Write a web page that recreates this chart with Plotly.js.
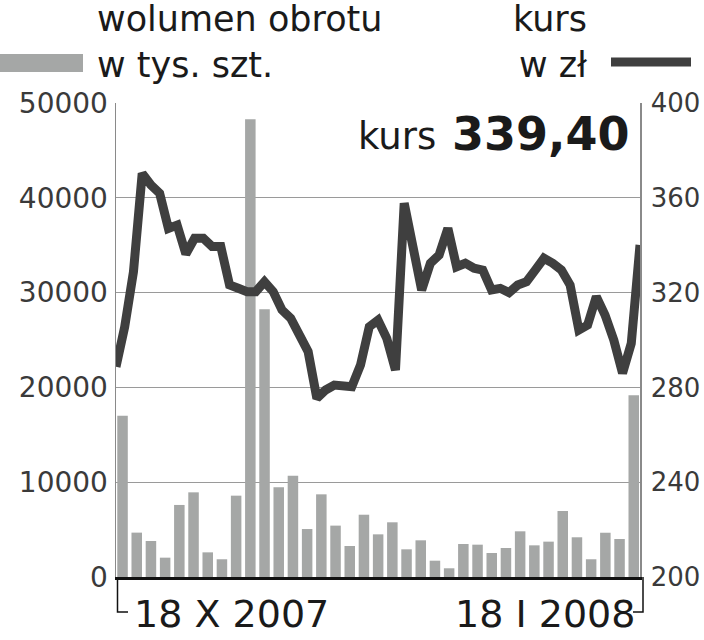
<!DOCTYPE html>
<html><head><meta charset="utf-8">
<script src="https://cdn.plot.ly/plotly-3.0.1.min.js"></script>
<style>html,body{margin:0;padding:0;background:#fff;}#chart{width:704px;height:640px;}</style>
</head><body><div id="chart"></div>
<script>
// Volume (thousand shares) per bar
const volume = [17000, 4680, 3800, 2040, 7600, 8930, 2600, 1870, 8580, 48280,
  28240, 9460, 10690, 5060, 8720, 5420, 3270, 6570, 4500, 5770,
  2920, 3870, 1720, 920, 3480, 3410, 2530, 3060, 4820, 3340,
  3730, 6960, 4190, 1870, 4670, 4010, 19170];
// Price (zł) per session
const kurs = [288.7, 305.6, 328.8, 370.3, 365.4, 361.9, 347.1, 348.5, 336.3, 342.9,
  342.9, 339.4, 339.4, 323.2, 321.8, 320.4, 320.4, 324.6, 320.4, 312.7,
  309.2, 302.1, 295.1, 275.4, 278.9, 281.0, 280.3, 280.3, 289.5, 305.6,
  308.4, 300.7, 287.3, 357.7, 339.4, 321.1, 332.4, 335.9, 347.1, 330.9,
  332.4, 330.3, 329.5, 321.1, 321.8, 320.0, 323.2, 324.6, 329.5, 334.5,
  332.4, 329.5, 323.2, 304.2, 306.3, 318.3, 310.5, 300.0, 286.0, 298.6, 340.1];
const leftTicks = [0, 10000, 20000, 30000, 40000, 50000];
const rightTicks = [200, 240, 280, 320, 360, 400];
const dateLabels = ["18 X 2007", "18 I 2008"];
const lastPrice = "339,40";

const barIdx = volume.map((_, i) => i);
const dayIdx = kurs.map((_, i) => i);

const W = 704, H = 640, L = 116, R = 640, T = 103, B = 577;
const px = x => (x - L) / (R - L);
const py = y => (B - y) / (B - T);
const FONT = "DejaVu Sans";

const traces = [
  {type: 'bar', x: barIdx, y: volume, xaxis: 'x', yaxis: 'y',
   marker: {color: '#a5a7a6'}, hoverinfo: 'skip'},
  {type: 'scatter', mode: 'lines', x: dayIdx, y: kurs, xaxis: 'x2', yaxis: 'y2',
   line: {color: '#3f3f3f', width: 9, shape: 'linear'}, cliponaxis: false, hoverinfo: 'skip'}
];

const layout = {
  width: W, height: H,
  margin: {l: L, r: W - R, t: T, b: H - B, pad: 0},
  paper_bgcolor: '#fff', plot_bgcolor: '#fff',
  showlegend: false, bargap: 0.26,
  font: {family: FONT, color: '#333'},
  xaxis: {range: [-0.46, 36.44], showticklabels: false, ticks: '', showgrid: false,
          zeroline: false, showline: true, linecolor: '#111', linewidth: 3, fixedrange: true},
  xaxis2: {overlaying: 'x', range: [0, kurs.length - 1], visible: false, fixedrange: true},
  yaxis: {range: [0, 50000], tickvals: leftTicks, ticktext: leftTicks.map(String),
          showgrid: true, gridcolor: '#9a9a9a', gridwidth: 1, zeroline: false,
          showline: true, linecolor: '#8a8a8a', linewidth: 1.5, ticks: '',
          ticklabelstandoff: 1, tickfont: {family: FONT, size: 28, color: '#3a3a3a'}},
  yaxis2: {range: [200, 400], overlaying: 'y', side: 'right', tickvals: rightTicks,
          ticktext: rightTicks.map(String), showgrid: false, zeroline: false,
          showline: true, linecolor: '#8a8a8a', linewidth: 1.5, ticks: '',
          ticklabelstandoff: 4, tickfont: {family: FONT, size: 26, color: '#3a3a3a'}},
  shapes: [
    // legend swatches
    {type: 'rect', xref: 'paper', yref: 'paper', x0: px(0), x1: px(83), y0: py(54), y1: py(72),
     fillcolor: '#a5a7a6', line: {width: 0}},
    {type: 'line', xref: 'paper', yref: 'paper', x0: px(611), x1: px(691), y0: py(62), y1: py(62),
     line: {color: '#3f3f3f', width: 9}},
    // bottom brackets
    {type: 'path', xref: 'paper', yref: 'paper',
     path: `M ${px(117.5)} ${py(577)} L ${px(117.5)} ${py(612)} L ${px(128)} ${py(612)}`,
     line: {color: '#111', width: 1.5}},
    {type: 'path', xref: 'paper', yref: 'paper',
     path: `M ${px(643)} ${py(577)} L ${px(643)} ${py(612)} L ${px(633)} ${py(612)}`,
     line: {color: '#111', width: 1.5}}
  ],
  annotations: [
    {xref: 'paper', yref: 'paper', x: px(95), y: py(42), xanchor: 'left', yanchor: 'middle',
     align: 'left', showarrow: false, text: 'wolumen obrotu<br>w tys. szt.',
     font: {family: FONT, size: 35, color: '#1a1a1a'}},
    {xref: 'paper', yref: 'paper', x: px(589), y: py(42), xanchor: 'right', yanchor: 'middle',
     align: 'right', showarrow: false, text: 'kurs<br>w zł',
     font: {family: FONT, size: 35, color: '#1a1a1a'}},
    {xref: 'paper', yref: 'paper', x: px(438), y: py(136), xanchor: 'right', yanchor: 'middle',
     showarrow: false, text: 'kurs', font: {family: FONT, size: 37, color: '#1a1a1a'}},
    {xref: 'paper', yref: 'paper', x: px(632), y: py(134), xanchor: 'right', yanchor: 'middle',
     showarrow: false, text: '<b>' + lastPrice + '</b>', font: {family: FONT, size: 46, color: '#1a1a1a'}},
    {xref: 'paper', yref: 'paper', x: px(132), y: py(614), xanchor: 'left', yanchor: 'middle',
     showarrow: false, text: dateLabels[0], font: {family: FONT, size: 38, color: '#1a1a1a'}},
    {xref: 'paper', yref: 'paper', x: px(637), y: py(614), xanchor: 'right', yanchor: 'middle',
     showarrow: false, text: dateLabels[1], font: {family: FONT, size: 38, color: '#1a1a1a'}}
  ]
};

Plotly.newPlot('chart', traces, layout, {staticPlot: true, displayModeBar: false});
</script></body></html>
